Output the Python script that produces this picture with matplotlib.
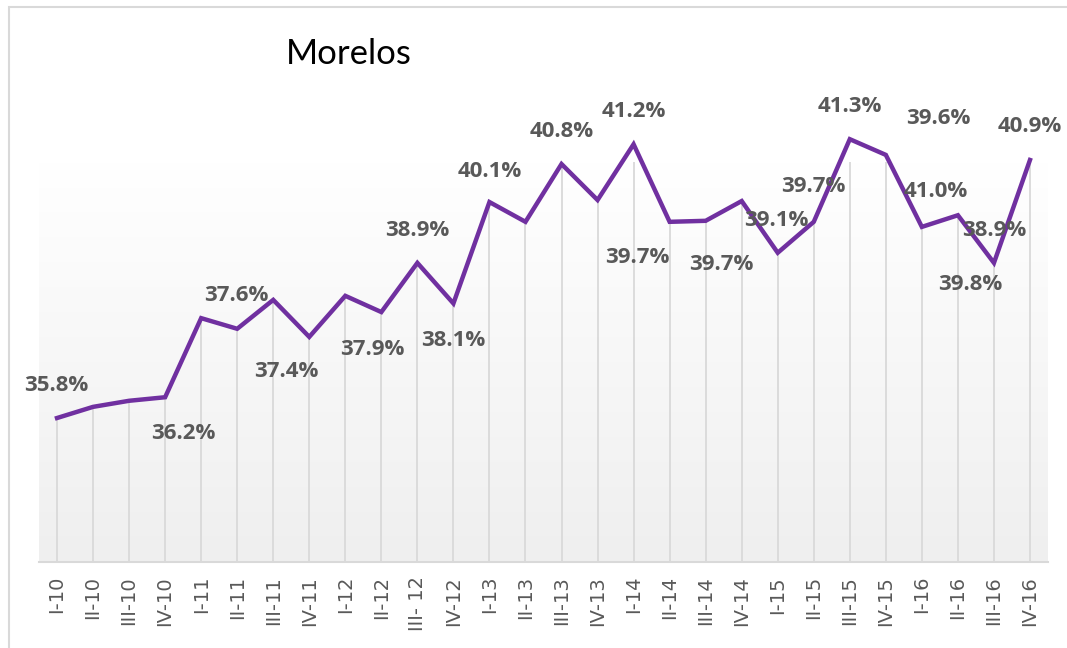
import matplotlib
matplotlib.use("Agg")
import matplotlib.pyplot as plt
import numpy as np
from matplotlib.colors import LinearSegmentedColormap
from matplotlib.patches import Rectangle

# ---- data ----
categories = ["I-10", "II-10", "III-10", "IV-10",
              "I-11", "II-11", "III-11", "IV-11",
              "I-12", "II-12", "III- 12", "IV-12",
              "I-13", "II-13", "III-13", "IV-13",
              "I-14", "II-14", "III-14", "IV-14",
              "I-15", "II-15", "III-15", "IV-15",
              "I-16", "II-16", "III-16", "IV-16"]
values = [35.80, 36.02, 36.14, 36.21,
          37.77, 37.56, 38.13, 37.40,
          38.21, 37.89, 38.86, 38.06,
          40.06, 39.67, 40.81, 40.10,
          41.20, 39.67, 39.69, 40.08,
          39.06, 39.67, 41.30, 40.99,
          39.57, 39.80, 38.86, 40.89]
title = "Morelos"

# label placement (pixel offsets: dx right, dy down) for labelled points
label_offsets = {0: (-1, -33), 3: (18, 36), 5: (-1, -33), 7: (-23, 35),
                 9: (-9, 37), 10: (0, -32), 11: (0, 37), 12: (0, -31),
                 14: (0, -33), 16: (0, -33), 17: (-32, 36), 18: (16, 44),
                 20: (-1, -32), 21: (0, -35), 22: (0, -33), 23: (50, 37),
                 24: (16, -108), 25: (12, 69), 26: (0, -32), 27: (0, -33)}

W, H = 1067, 648
fig = plt.figure(figsize=(W / 100, H / 100), dpi=100)
fig.patch.set_facecolor("white")

# outer chart border
fig.patches.append(Rectangle((9 / W, -0.05), 1.2, (648 - 7) / H + 0.05,
                             transform=fig.transFigure, fill=False,
                             edgecolor="#d9d9d9", lw=1.5))

left, right = 39 / W, 1048 / W
bottom, top = (H - 562) / H, (H - 162) / H
ax = fig.add_axes([left, bottom, right - left, top - bottom])

x = np.arange(len(values))
ymin, ymax = 32.96, 40.85
xmin, xmax = -0.5, len(values) - 0.5
ax.set_xlim(xmin, xmax)
ax.set_ylim(ymin, ymax)

# gradient background
cmap = LinearSegmentedColormap.from_list("g", ["#efefef", "#ffffff"])
grad = np.linspace(0, 1, 256).reshape(-1, 1)
ax.imshow(grad, extent=[xmin, xmax, ymin, ymax], origin="lower",
          aspect="auto", cmap=cmap, zorder=0)

# drop lines
ax.vlines(x, ymin, values, color="#d9d9d9", lw=1.3, zorder=1)

# line
ax.plot(x, values, color="#7030A0", lw=3.2, solid_joinstyle="miter",
        zorder=3, clip_on=False)

# data labels
for i, (dx, dy) in label_offsets.items():
    ax.annotate(f"{values[i]:.1f}%", xy=(x[i], values[i]),
                xytext=(dx, -dy), textcoords="offset pixels",
                ha="center", va="center", fontsize=16, fontweight="bold",
                color="#595959", family="Open Sans", zorder=4,
                annotation_clip=False)

for s in ["top", "left", "right"]:
    ax.spines[s].set_visible(False)
ax.spines["bottom"].set_color("#d9d9d9")
ax.spines["bottom"].set_linewidth(1.5)
ax.set_yticks([])
ax.set_xticks(x)
ax.set_xticklabels(categories, rotation=90, fontsize=14, color="#595959",
                   family="DejaVu Sans")
ax.tick_params(axis="x", length=0, pad=10)

fig.text(349 / W, 1 - 54 / H, title, ha="center", va="center",
         fontsize=25, family="Lato", color="black")

fig.savefig("out.png", dpi=100)
